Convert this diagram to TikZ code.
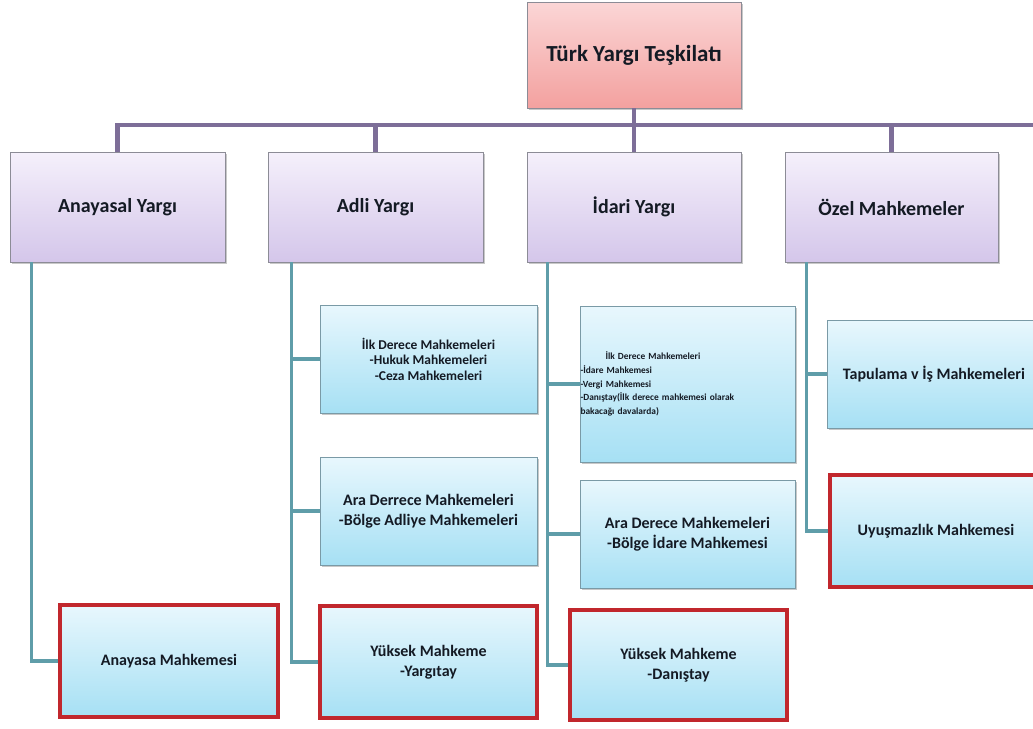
\documentclass[tikz,border=0pt]{standalone}
\usepackage{fontspec}
\setmainfont{Carlito}
\usetikzlibrary{shadows,calc}
\definecolor{purpline}{HTML}{7D6E98}
\definecolor{tealline}{HTML}{5F9DA9}
\definecolor{redb}{HTML}{C1272D}
\definecolor{txt}{HTML}{141A24}
\definecolor{pinkT}{HTML}{FBD6D6}
\definecolor{pinkB}{HTML}{F3A19F}
\definecolor{lavT}{HTML}{F5F0FB}
\definecolor{lavB}{HTML}{D4C6EA}
\definecolor{bluT}{HTML}{E8F7FD}
\definecolor{bluB}{HTML}{A6E0F4}
\definecolor{greyb}{HTML}{8C8C96}
\definecolor{blueb}{HTML}{7A9AA6}
\begin{document}
\begin{tikzpicture}[x=1pt,y=-1pt,
  basebox/.style={rectangle, inner sep=2pt, align=center, text=txt,
    drop shadow={shadow xshift=2pt, shadow yshift=-2pt, opacity=0.3, fill=black!70}},
  topbox/.style={basebox, draw=greyb, line width=0.8pt, top color=pinkT, bottom color=pinkB,
    font=\bfseries\fontsize{23pt}{27pt}\selectfont},
  lvltwo/.style={basebox, draw=greyb, line width=0.8pt, top color=lavT, bottom color=lavB,
    minimum height=110, font=\bfseries\fontsize{20pt}{24pt}\selectfont},
  lvlthree/.style={basebox, draw=blueb, line width=0.8pt, top color=bluT, bottom color=bluB,
    font=\bfseries\fontsize{16pt}{20pt}\selectfont},
  redframe/.style={draw=redb, line width=3.6pt},
  purp/.style={draw=purpline, line width=4.2pt},
  tealc/.style={draw=tealline, line width=3.6pt}
]
\clip (0,0) rectangle (1033,728);
\useasboundingbox (0,0) rectangle (1033,728);
\fill[white] (0,0) rectangle (1033,728);

% top
\node[topbox, minimum width=214, minimum height=106] (top) at (634,55) {Türk Yargı Teşkilatı};

% level two
\node[lvltwo, minimum width=215] (anay) at (117.5,207) {Anayasal Yargı};
\node[lvltwo, minimum width=215] (adli) at (375.5,207) {Adli Yargı};
\node[lvltwo, minimum width=214] (idari) at (634,207) {İdari Yargı};
\node[lvltwo, minimum width=213] (ozel) at (891.5,207) {Özel Mahkemeler};

\coordinate (barR) at (1040,125);

% purple connectors
\draw[purp] (anay.north) |- (barR);
\draw[purp] (top.south) -- (top.south |- barR);
\draw[purp] (adli.north) -- (adli.north |- barR);
\draw[purp] (idari.north) -- (idari.north |- barR);
\draw[purp] (ozel.north) -- (ozel.north |- barR);

% level three
\node[lvlthree, redframe, minimum width=218, minimum height=112] (anaM) at (169,661) {Anayasa Mahkemesi};

\node[lvlthree, minimum width=217, minimum height=108, font=\bfseries\fontsize{13.5pt}{15.5pt}\selectfont] (adli1) at (428.5,359)
  {İlk Derece Mahkemeleri\\-Hukuk Mahkemeleri\\-Ceza Mahkemeleri};
\node[lvlthree, minimum width=217, minimum height=108] (adli2) at (428.5,511)
  {Ara Derrece Mahkemeleri\\-Bölge Adliye Mahkemeleri};
\node[lvlthree, redframe, minimum width=217, minimum height=112] (adli3) at (428.5,662)
  {Yüksek Mahkeme\\-Yargıtay};

\node[lvlthree, minimum height=156, inner xsep=0.5pt, text width=214, align=left, font=\bfseries\fontsize{9.4pt}{13.7pt}\selectfont] (idari1) at (687.5,384)
  {\hspace*{25pt}İlk Derece Mahkemeleri\\-İdare Mahkemesi\\-Vergi Mahkemesi\\-Danıştay(İlk derece mahkemesi olarak\\bakacağı davalarda)};
\node[lvlthree, minimum width=215, minimum height=108] (idari2) at (687.5,534)
  {Ara Derece Mahkemeleri\\-Bölge İdare Mahkemesi};
\node[lvlthree, redframe, minimum width=217, minimum height=110] (idari3) at (678.5,665)
  {Yüksek Mahkeme\\-Danıştay};

\node[lvlthree, minimum width=214, minimum height=108] (ozel1) at (934,374) {Tapulama v İş Mahkemeleri};
\node[lvlthree, redframe, minimum width=212, minimum height=112] (ozel2) at (936,531) {Uyuşmazlık Mahkemesi};

% teal trunks
\coordinate (anayT) at ($(anay.south west)+(22,0)$);
\coordinate (adliT) at ($(adli.south west)+(24,0)$);
\coordinate (idariT) at ($(idari.south west)+(21,0)$);
\coordinate (ozelT) at ($(ozel.south west)+(22,0)$);

\draw[tealc] (anayT) |- (anaM.west);
\draw[tealc] (adliT) |- (adli3.west);
\draw[tealc] (adli1.west) -- (adli1.west -| adliT);
\draw[tealc] (adli2.west) -- (adli2.west -| adliT);
\draw[tealc] (idariT) |- (idari3.west);
\draw[tealc] (idari1.west) -- (idari1.west -| idariT);
\draw[tealc] (idari2.west) -- (idari2.west -| idariT);
\draw[tealc] (ozelT) |- (ozel2.west);
\draw[tealc] (ozel1.west) -- (ozel1.west -| ozelT);
\end{tikzpicture}
\end{document}
